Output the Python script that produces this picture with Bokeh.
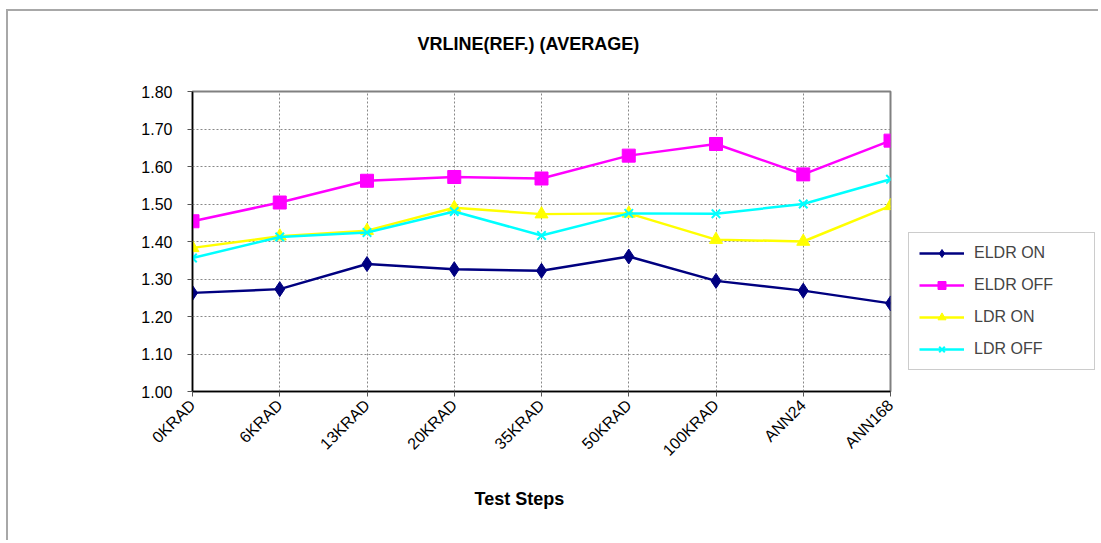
from bokeh.plotting import figure
from bokeh.models import (Range1d, FixedTicker, Legend, LegendItem, Title, ColumnDataSource, Spacer)
from bokeh.layouts import row, column
from bokeh.embed import file_html
from bokeh.resources import INLINE
import math

categories = ["0KRAD", "6KRAD", "13KRAD", "20KRAD", "35KRAD", "50KRAD", "100KRAD", "ANN24", "ANN168"]
eldr_on = [1.263, 1.273, 1.340, 1.326, 1.322, 1.360, 1.295, 1.269, 1.235]
eldr_off = [1.454, 1.504, 1.562, 1.572, 1.568, 1.629, 1.660, 1.579, 1.669]
ldr_on = [1.383, 1.414, 1.429, 1.490, 1.473, 1.475, 1.405, 1.400, 1.495]
ldr_off = [1.356, 1.412, 1.424, 1.480, 1.416, 1.475, 1.474, 1.500, 1.566]
y_ticks = [1.0, 1.1, 1.2, 1.3, 1.4, 1.5, 1.6, 1.7, 1.8]

FONT = "Liberation Sans"
xs = list(range(len(categories)))
BORDER = "2px solid #a8a8a8"

p = figure(width=892, height=531, output_backend="svg", toolbar_location=None,
           x_range=Range1d(0, len(categories) - 1), y_range=Range1d(1.0, 1.8),
           min_border_left=184, min_border_top=80, min_border_right=10, min_border_bottom=151,
           styles={"border-top": BORDER, "border-left": BORDER})
p.background_fill_color = "white"
p.border_fill_color = "white"
p.outline_line_color = "#808080"
p.outline_line_width = 2

for g in (p.xgrid, p.ygrid):
    g.grid_line_color = "#888888"
    g.grid_line_dash = "2 2"
    g.grid_line_width = 1

p.xaxis.ticker = FixedTicker(ticks=xs)
p.xaxis.major_label_overrides = {i: c for i, c in enumerate(categories)}
p.xaxis.major_label_orientation = math.pi / 4
p.yaxis.ticker = FixedTicker(ticks=y_ticks)
p.yaxis.major_label_overrides = {t: f"{t:.2f}" for t in y_ticks}

for ax in (p.xaxis, p.yaxis):
    ax.axis_line_color = "black"
    ax.axis_line_width = 1.5
    ax.major_tick_line_color = "#555555"
    ax.major_tick_in = 0
    ax.major_tick_out = 5
    ax.minor_tick_line_color = None
    ax.major_label_text_font = FONT
    ax.major_label_text_font_size = "16px"
    ax.major_label_text_color = "black"
p.yaxis.major_label_standoff = 15
p.xaxis.major_label_standoff = 6

# legend lives in a narrow companion figure to the right of the plot area
pl = figure(width=200, height=531, output_backend="svg", toolbar_location=None,
            x_range=Range1d(100, 101), y_range=Range1d(100, 101),
            x_axis_type=None, y_axis_type=None,
            min_border_left=0, min_border_right=0, min_border_top=0, min_border_bottom=0,
            styles={"border-top": BORDER})
pl.outline_line_color = None
pl.background_fill_color = "white"
pl.border_fill_color = "white"
pl.grid.visible = False

series = [
    ("ELDR ON", eldr_on, "#000080", "diamond", 15),
    ("ELDR OFF", eldr_off, "#FF00FF", "square", 13),
    ("LDR ON", ldr_on, "#FFFF00", "triangle", 13),
    ("LDR OFF", ldr_off, "#00FFFF", "x", 12),
]
items = []
for name, vals, col, mk, sz in series:
    src = ColumnDataSource(dict(x=xs, y=vals))
    p.line("x", "y", source=src, line_color=col, line_width=2.5)
    p.scatter("x", "y", source=src, marker=mk, size=sz, fill_color=col,
              line_color=col, line_width=2 if mk == "x" else 1)
    l2 = pl.line("x", "y", source=src, line_color=col, line_width=2.5)
    s2 = pl.scatter("x", "y", source=src, marker=mk, size=sz, fill_color=col,
                    line_color=col, line_width=2 if mk == "x" else 1)
    items.append(LegendItem(label=name, renderers=[l2, s2]))

legend = Legend(items=items, location=(10, 21), padding=10, spacing=12,
                glyph_width=45, glyph_height=20, label_height=20, label_width=110,
                label_standoff=10, label_text_font=FONT, label_text_font_size="16px",
                border_line_color="#999999", border_line_width=1.5,
                background_fill_color="white", margin=0)
pl.add_layout(legend, "center")

title = Title(text="VRLINE(REF.) (AVERAGE)\n", align="left", offset=225,
              text_font=FONT, text_font_size="18px", text_font_style="bold",
              text_color="black", standoff=36)
p.add_layout(title, "above")

xlabel = Title(text="Test Steps", align="left", offset=282,
               text_font=FONT, text_font_size="18px", text_font_style="bold",
               text_color="black", standoff=38)
p.add_layout(xlabel, "below")

layout = column(Spacer(height=9), row(Spacer(width=6), p, pl))
open("out.html", "w").write(file_html(layout, INLINE))
